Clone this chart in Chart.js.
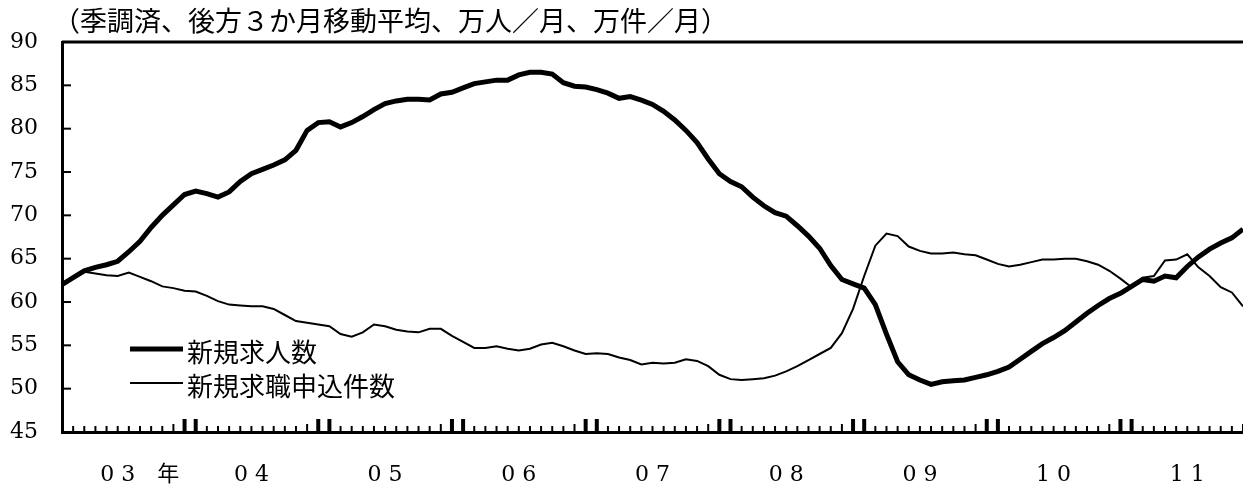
<!DOCTYPE html>
<html>
<head>
<meta charset="utf-8">
<script src="https://cdn.jsdelivr.net/npm/chart.js@4.4.1/dist/chart.umd.min.js"></script>
<style>
  body { margin: 0; background: #fff; }
</style>
</head>
<body>
<canvas id="myChart" width="1243" height="486"></canvas>
<script>
// monthly, Jan 2003 - Nov 2011
const months = [];
for (let y = 2003; y <= 2011; y++) {
    for (let m = 1; m <= 12; m++) {
        if (y === 2011 && m > 11) break;
        months.push(y + '/' + m);
    }
}

const yearLabels = ['0 3', '0 4', '0 5', '0 6', '0 7', '0 8', '0 9', '1 0', '1 1'];
const yearSuffix = '年';
const yTicks = [45, 50, 55, 60, 65, 70, 75, 80, 85, 90];

const titleText = '（季調済、後方３か月移動平均、万人／月、万件／月）';

// 新規求人数
const jobOffers = [
    62.0, 62.8, 63.6, 64.0, 64.3, 64.7, 65.8, 67.0, 68.6, 70.0, 71.2, 72.4,
    72.8, 72.5, 72.1, 72.7, 73.9, 74.8, 75.3, 75.8, 76.4, 77.5, 79.8, 80.7,
    80.8, 80.2, 80.7, 81.4, 82.2, 82.9, 83.2, 83.4, 83.4, 83.3, 84.0, 84.2,
    84.7, 85.2, 85.4, 85.6, 85.6, 86.2, 86.5, 86.5, 86.3, 85.3, 84.9, 84.8,
    84.5, 84.1, 83.5, 83.7, 83.3, 82.8, 82.0, 81.0, 79.8, 78.4, 76.5, 74.8,
    73.9, 73.3, 72.1, 71.1, 70.3, 69.9, 68.8, 67.6, 66.2, 64.2, 62.6, 62.1,
    61.6, 59.7, 56.3, 53.1, 51.6, 51.0, 50.5, 50.8, 50.9, 51.0, 51.3, 51.6,
    52.0, 52.5, 53.4, 54.3, 55.2, 55.9, 56.7, 57.7, 58.7, 59.6, 60.4, 61.0,
    61.8, 62.6, 62.4, 63.0, 62.8, 64.1, 65.2, 66.1, 66.8, 67.4, 68.4
];

// 新規求職申込件数
const jobSeekers = [
    62.0, 62.9, 63.5, 63.3, 63.1, 63.0, 63.4, 62.9, 62.4, 61.8, 61.6, 61.3,
    61.2, 60.7, 60.1, 59.7, 59.6, 59.5, 59.5, 59.2, 58.5, 57.8, 57.6, 57.4,
    57.2, 56.3, 56.0, 56.5, 57.4, 57.2, 56.8, 56.6, 56.5, 56.9, 56.9, 56.1,
    55.4, 54.7, 54.7, 54.9, 54.6, 54.4, 54.6, 55.1, 55.3, 54.9, 54.4, 54.0,
    54.1, 54.0, 53.6, 53.3, 52.8, 53.0, 52.9, 53.0, 53.4, 53.2, 52.6, 51.6,
    51.1, 51.0, 51.1, 51.2, 51.5, 52.0, 52.6, 53.3, 54.0, 54.7, 56.4, 59.2,
    63.0, 66.5, 67.9, 67.6, 66.4, 65.9, 65.6, 65.6, 65.7, 65.5, 65.4, 64.9,
    64.4, 64.1, 64.3, 64.6, 64.9, 64.9, 65.0, 65.0, 64.7, 64.3, 63.6, 62.7,
    61.7, 62.8, 63.0, 64.8, 64.9, 65.5, 64.0, 63.0, 61.7, 61.1, 59.5
];

const cjk = '"Noto Sans CJK JP", sans-serif';

// frame top line, inward tick marks, title and legend inside the plot
const decorations = {
    id: 'decorations',
    afterDatasetsDraw(chart) {
        const { ctx, chartArea: a, scales: { x, y } } = chart;
        ctx.save();
        ctx.strokeStyle = '#000';

        // top border
        ctx.lineWidth = 3;
        ctx.beginPath();
        ctx.moveTo(a.left, a.top);
        ctx.lineTo(a.right, a.top);
        ctx.stroke();

        // y ticks pointing in
        ctx.lineWidth = 2;
        yTicks.slice(1, -1).forEach(v => {
            const py = y.getPixelForValue(v);
            ctx.beginPath();
            ctx.moveTo(a.left, py);
            ctx.lineTo(a.left + 9, py);
            ctx.stroke();
        });

        // monthly ticks, Dec/Jan tall
        months.forEach((m, i) => {
            if (i === 0) return;
            const mon = i % 12;
            let h = 6, w = 2;
            if (mon === 11 || mon === 0) { h = 13; w = 4; }
            else if (mon === 10) { h = 8; }
            const px = x.getPixelForValue(i);
            ctx.lineWidth = w;
            ctx.beginPath();
            ctx.moveTo(px, a.bottom);
            ctx.lineTo(px, a.bottom - h);
            ctx.stroke();
        });

        // title
        ctx.fillStyle = '#000';
        ctx.font = '27px ' + cjk;
        ctx.textBaseline = 'middle';
        ctx.textAlign = 'left';
        ctx.fillText(titleText, a.left - 9, 21);

        // legend
        ctx.font = '26px ' + cjk;
        const rows = [352, 386];
        chart.data.datasets.forEach((ds, k) => {
            const ly = rows[k];
            ctx.lineWidth = ds.borderWidth;
            ctx.beginPath();
            ctx.moveTo(130, ly - 3);
            ctx.lineTo(183, ly - 3);
            ctx.stroke();
            ctx.fillText(ds.label, 187, ly);
        });
        ctx.restore();
    }
};

new Chart(document.getElementById('myChart'), {
    type: 'line',
    data: {
        labels: months,
        datasets: [{
            label: '新規求人数',
            data: jobOffers,
            borderColor: '#000',
            borderWidth: 5,
            pointRadius: 0,
            tension: 0
        }, {
            label: '新規求職申込件数',
            data: jobSeekers,
            borderColor: '#000',
            borderWidth: 2,
            pointRadius: 0,
            tension: 0
        }]
    },
    options: {
        responsive: false,
        animation: false,
        layout: {
            padding: { top: 42, left: 0, right: 0, bottom: 0 }
        },
        plugins: {
            legend: { display: false },
            tooltip: { enabled: false }
        },
        scales: {
            x: {
                offset: false,
                grid: { display: false, drawTicks: false },
                border: { display: true, color: '#000', width: 3 },
                afterFit: function (axis) {
                    axis.height = 54;
                    axis.paddingLeft = 0;
                    axis.paddingRight = 0;
                },
                ticks: {
                    autoSkip: false,
                    maxRotation: 0,
                    padding: 30,
                    color: '#000',
                    font: { family: '"DejaVu Serif", "Noto Sans CJK JP", serif', size: 22 },
                    callback: function (v, i) {
                        if (i % 12 !== 5) return '';
                        const k = (i - 5) / 12;
                        if (k === 0) return '　　' + yearLabels[0] + '　' + yearSuffix;
                        return yearLabels[k];
                    }
                }
            },
            y: {
                min: 45,
                max: 90,
                grid: { display: false, drawTicks: false },
                border: { display: true, color: '#000', width: 3 },
                afterBuildTicks: function (axis) {
                    axis.ticks = yTicks.map(v => ({ value: v }));
                },
                afterFit: function (axis) {
                    axis.width = 62;
                },
                ticks: {
                    padding: 24,
                    color: '#000',
                    font: { family: '"DejaVu Serif", serif', size: 22 }
                }
            }
        }
    },
    plugins: [decorations]
});
</script>
</body>
</html>
